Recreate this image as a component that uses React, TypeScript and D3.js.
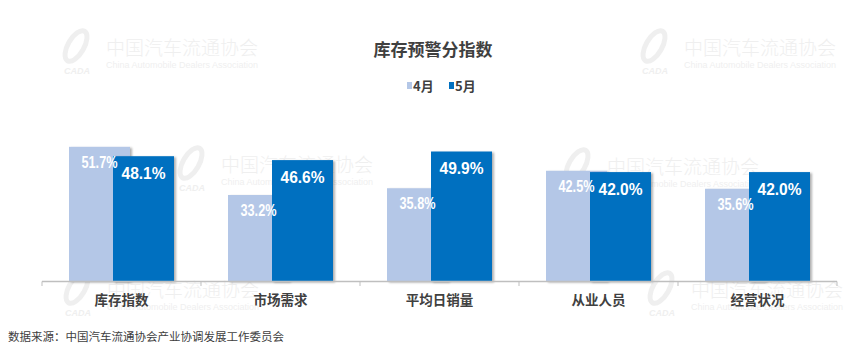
import React, { useEffect, useRef } from 'react';
import * as d3 from 'd3';

const categories = ['库存指数', '市场需求', '平均日销量', '从业人员', '经营状况'];
const aprilValues = [51.7, 33.2, 35.8, 42.5, 35.6];
const mayValues = [48.1, 46.6, 49.9, 42.0, 42.0];
const seriesNames = ['4月', '5月'];

const CJK = '"Noto Sans CJK SC", "Noto Sans", sans-serif';
const NARROW = '"Liberation Sans", Arial, sans-serif';

const App = () => {
    const svgRef = useRef<SVGSVGElement>(null);

    useEffect(() => {
        document.body.style.margin = '0';
        const width = 865;
        const height = 354;

        const svg = d3.select(svgRef.current);
        svg.selectAll('*').remove();
        svg.attr('width', width).attr('height', height);

        const defs = svg.append('defs');
        const filter = defs.append('filter').attr('id', 'barShadow')
            .attr('x', '-10%').attr('y', '-10%').attr('width', '130%').attr('height', '130%');
        filter.append('feDropShadow')
            .attr('dx', 2).attr('dy', 1).attr('stdDeviation', 1)
            .attr('flood-color', '#000').attr('flood-opacity', 0.3);

        // faint watermarks behind the plot
        const marks = [[62, 48], [640, 48], [177, 165], [563, 167], [63, 290], [647, 290]];
        const wm = svg.append('g').attr('fill', '#efefef');
        marks.forEach(([x, y]) => {
            const g = wm.append('g').attr('transform', `translate(${x},${y})`);
            g.append('ellipse').attr('cx', 14).attr('cy', -2).attr('rx', 8).attr('ry', 17)
                .attr('transform', 'rotate(30 14 -2)')
                .attr('fill', 'none').attr('stroke', '#efefef').attr('stroke-width', 5);
            g.append('text').attr('x', 2).attr('y', 26)
                .style('font-family', NARROW).style('font-size', '9px')
                .style('font-weight', 'bold').style('font-style', 'italic').text('CADA');
            g.append('text').attr('x', 44).attr('y', 7)
                .style('font-family', CJK).style('font-size', '19px').style('font-weight', 300)
                .text('中国汽车流通协会');
            g.append('text').attr('x', 44).attr('y', 20)
                .attr('textLength', 152).attr('lengthAdjust', 'spacingAndGlyphs')
                .style('font-family', NARROW).style('font-size', '9.5px')
                .text('China Automobile Dealers Association');
        });

        const x = d3.scaleBand().domain(categories).range([42, 837]);
        const y = d3.scaleLinear().domain([0, 60]).range([281.5, 125.2]);
        const barW = 61;
        const step = 44;
        const groupLeft = (i: number) => x(categories[i])! + x.bandwidth() / 2 - (barW + step) / 2;

        const plot = svg.append('g');

        // 4月 bars first, 5月 drawn on top (overlapping)
        plot.selectAll('rect.apr').data(aprilValues).enter().append('rect')
            .attr('class', 'apr')
            .attr('x', (d, i) => groupLeft(i))
            .attr('y', d => y(d))
            .attr('width', barW)
            .attr('height', d => y(0) - y(d))
            .attr('fill', '#B4C7E7')
            .attr('filter', 'url(#barShadow)');

        plot.selectAll('rect.may').data(mayValues).enter().append('rect')
            .attr('class', 'may')
            .attr('x', (d, i) => groupLeft(i) + step)
            .attr('y', d => y(d))
            .attr('width', barW)
            .attr('height', d => y(0) - y(d))
            .attr('fill', '#0070C0')
            .attr('filter', 'url(#barShadow)');

        // labels (condensed look via textLength)
        plot.selectAll('text.apr').data(aprilValues).enter().append('text')
            .attr('x', (d, i) => groupLeft(i) + barW / 2 - 18)
            .attr('y', d => y(d) + 21)
            .attr('textLength', 36).attr('lengthAdjust', 'spacingAndGlyphs')
            .attr('fill', '#fff')
            .style('font-family', NARROW).style('font-weight', 'bold').style('font-size', '16px')
            .text(d => d.toFixed(1) + '%');

        plot.selectAll('text.may').data(mayValues).enter().append('text')
            .attr('x', (d, i) => groupLeft(i) + step + barW / 2 - 22)
            .attr('y', d => y(d) + 22.5)
            .attr('textLength', 44).attr('lengthAdjust', 'spacingAndGlyphs')
            .attr('fill', '#fff')
            .style('font-family', NARROW).style('font-weight', 'bold').style('font-size', '17px')
            .text(d => d.toFixed(1) + '%');

        // category axis
        const axis = svg.append('g');
        axis.append('line').attr('x1', 42).attr('x2', 837).attr('y1', 281.5).attr('y2', 281.5)
            .attr('stroke', '#bfbfbf').attr('stroke-width', 1.5);
        const edges = categories.map(c => x(c)!).concat([x.range()[1]]);
        axis.selectAll('line.tick').data(edges).enter().append('line')
            .attr('x1', d => d).attr('x2', d => d).attr('y1', 281.5).attr('y2', 286)
            .attr('stroke', '#bfbfbf').attr('stroke-width', 1);
        axis.selectAll('text').data(categories).enter().append('text')
            .attr('x', d => x(d)! + x.bandwidth() / 2)
            .attr('y', 305)
            .attr('text-anchor', 'middle')
            .attr('fill', '#404040')
            .style('font-family', CJK).style('font-weight', 'bold').style('font-size', '13.5px')
            .text(d => d);

        // title
        svg.append('text').attr('x', 433).attr('y', 56).attr('text-anchor', 'middle')
            .attr('fill', '#404040')
            .style('font-family', CJK).style('font-weight', 'bold').style('font-size', '17px')
            .text('库存预警分指数');

        // legend
        const legendColors = ['#B4C7E7', '#0070C0'];
        const legendX = [407, 449];
        seriesNames.forEach((name, i) => {
            svg.append('rect').attr('x', legendX[i]).attr('y', 82).attr('width', 5).attr('height', 7)
                .attr('fill', legendColors[i]);
            svg.append('text').attr('x', legendX[i] + 6).attr('y', 91)
                .attr('fill', '#404040')
                .style('font-family', CJK).style('font-weight', 'bold').style('font-size', '13px')
                .text(name);
        });

        // source
        svg.append('text').attr('x', 8).attr('y', 341)
            .attr('fill', '#404040')
            .style('font-family', CJK).style('font-size', '11.5px')
            .text('数据来源：中国汽车流通协会产业协调发展工作委员会');
    }, []);

    return <svg ref={svgRef} style={{ display: 'block' }}></svg>;
};

export default App;
